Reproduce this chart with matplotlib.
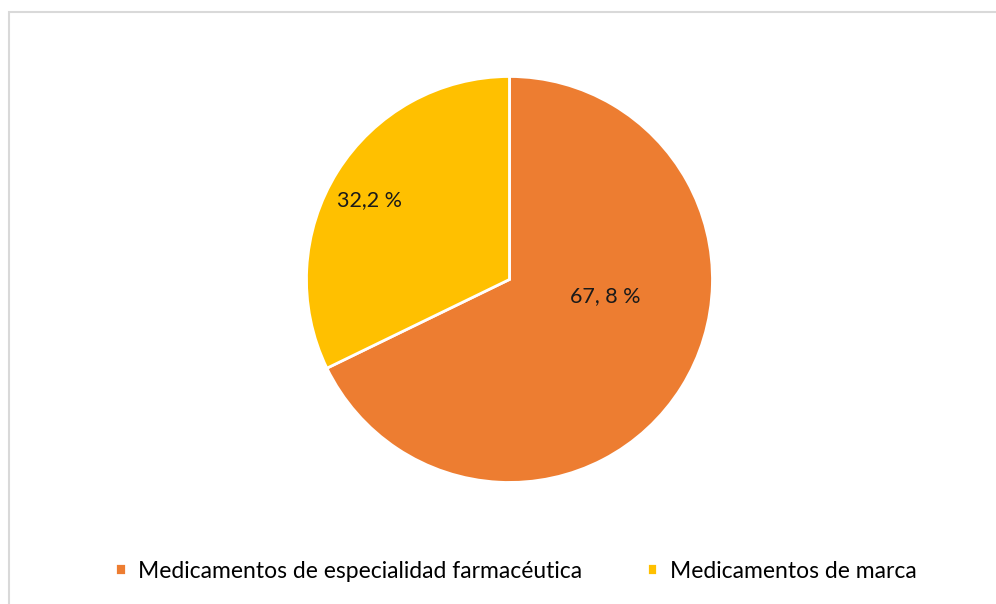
import matplotlib.pyplot as plt
from matplotlib.patches import Rectangle

categories = ['Medicamentos de especialidad farmacéutica', 'Medicamentos de marca']
values = [67.8, 32.2]
labels = ['67, 8 %', '32,2 %']
colors = ['#ED7D31', '#FFC000']

plt.rcParams['font.family'] = ['Lato', 'DejaVu Sans']

fig = plt.figure(figsize=(9.96, 6.04), dpi=100)
fig.patches.append(Rectangle((9 / 996, -0.01), 1.0, (604 - 12) / 604 + 0.01,
                             transform=fig.transFigure, fill=False,
                             edgecolor='#d9d9d9', linewidth=1.5))

ax = fig.add_axes([0.3077, 0.2012, 406 / 996, 406 / 604])
wedges, _ = ax.pie(values, colors=colors, startangle=90, counterclock=False,
                   wedgeprops=dict(edgecolor='white', linewidth=2))
ax.set_aspect('equal')
ax.set_xlim(-1, 1)
ax.set_ylim(-1, 1)

# label positions inside slices
ax.text(0.47, -0.08, labels[0], ha='center', va='center', fontsize=15.5, color='#1a1a1a')
ax.text(-0.69, 0.39, labels[1], ha='center', va='center', fontsize=15.5, color='#1a1a1a')

leg = fig.legend(wedges, categories, loc='center', ncol=2, frameon=False,
                 fontsize=16.5, handlelength=0.45, handleheight=0.45,
                 columnspacing=2.8, handletextpad=0.55)
leg.set_bbox_to_anchor((0.518, 1 - 571 / 604), transform=fig.transFigure)

fig.savefig('out.png', dpi=100)
